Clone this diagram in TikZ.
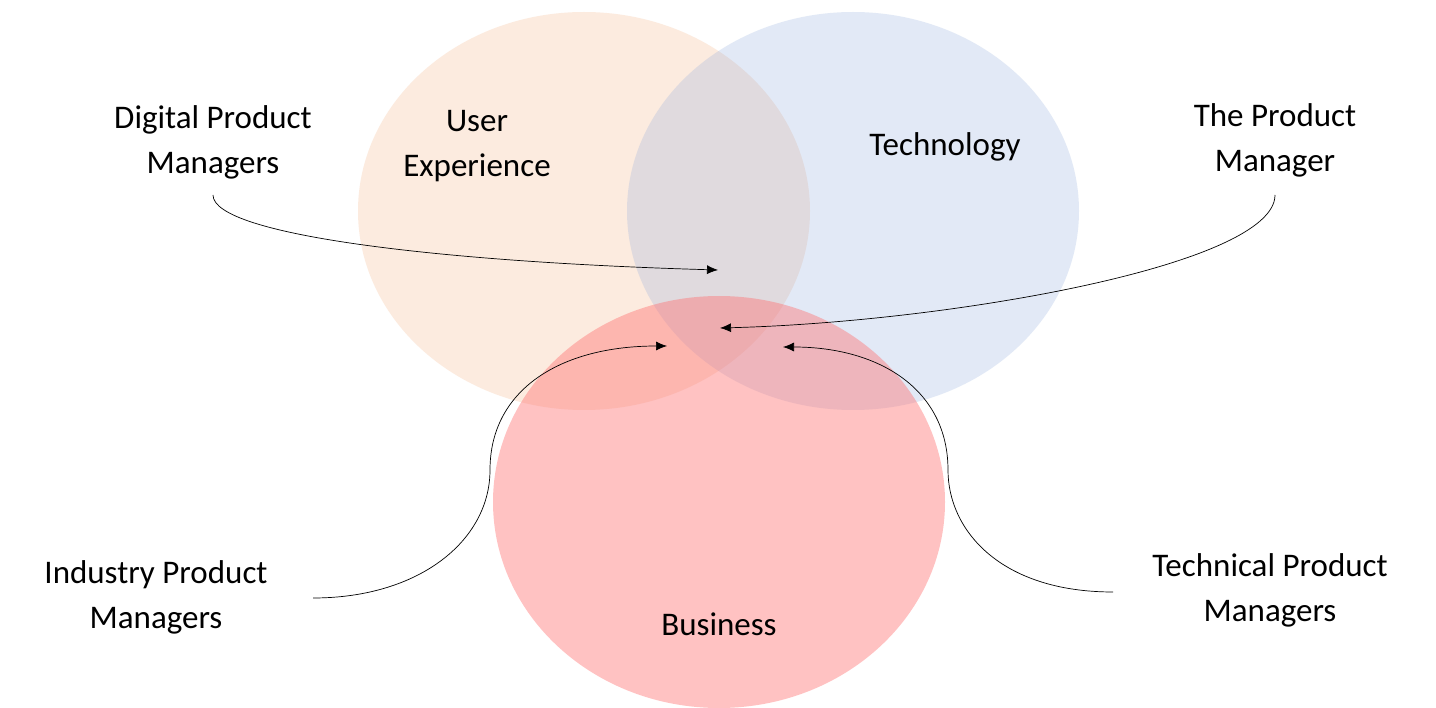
\documentclass[tikz,border=0pt]{standalone}
\usepackage{fontspec}
\setmainfont{Carlito}
\usetikzlibrary{arrows.meta}
\begin{document}
\begin{tikzpicture}[x=1pt,y=-1pt,
  lbl/.style={align=center,font=\fontsize{33}{45}\selectfont,text=black},
  conn/.style={-{Latex[length=11pt,width=9pt]},line width=0.7pt}]
\useasboundingbox (0,0) rectangle (1436,708);
\fill[white] (0,0) rectangle (1436,708);
\fill[color={rgb,255:red,244;green,177;blue,131},fill opacity=0.25] (584,211) ellipse [x radius=226,y radius=199];
\fill[color={rgb,255:red,143;green,170;blue,220},fill opacity=0.25] (853,211) ellipse [x radius=226,y radius=199];
\fill[color={rgb,255:red,255;green,110;blue,110},fill opacity=0.42] (719,502) ellipse [x radius=226,y radius=206];
\node[lbl] (dpm) at (213,142) {Digital Product\\Managers};
\node[lbl] (ux) at (477,146) {User\\Experience};
\node[lbl] (tech) at (945,147) {Technology};
\node[lbl] (tpm) at (1275,140) {The Product\\Manager};
\node[lbl] (ipm) at (156,597) {Industry Product\\Managers};
\node[lbl] (bus) at (719,624) {Business};
\node[lbl] (tcpm) at (1270,590) {Technical Product\\Managers};
\coordinate (a1) at (718,270);
\coordinate (a2) at (720,328);
\coordinate (a3) at (667,346);
\coordinate (a4) at (783,347);
\coordinate (s1) at (213,195);
\coordinate (s2) at (1275,195);
\coordinate (s3) at (313,598);
\coordinate (s4) at (1113,592);
\draw[conn] (s1) .. controls (213,235) and (440,262) .. (a1);
\draw[conn] (s2) .. controls (1275,265) and (950,322) .. (a2);
\draw[conn] (s3) .. controls (420,598) and (490,540) .. (490,470) .. controls (490,390) and (560,346) .. (a3);
\draw[conn] (s4) .. controls (1000,592) and (948,530) .. (948,470) .. controls (948,390) and (880,347) .. (a4);
\end{tikzpicture}
\end{document}
